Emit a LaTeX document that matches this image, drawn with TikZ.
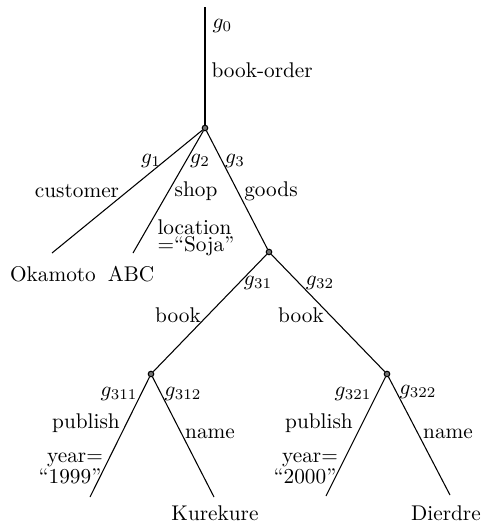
\documentclass[tikz,border=0pt]{standalone}
\usepackage{amsmath}
\usepackage{tikz}

\begin{document}
\begin{tikzpicture}[x = 0.47pt, y = -0.47pt, line width = 0.5pt,
                    dot/.style = {circle, draw, fill = black!55, inner sep = 0pt, minimum size = 2.6pt},
                    lbl/.style = {inner sep = 0pt}]
  \useasboundingbox (0,0) rectangle (487,527);

  \coordinate (T0) at (205,7);
  \node [dot] (N0) at (205,128) {};
  \coordinate (L1) at (52,253);
  \coordinate (L2) at (133,253);
  \node [dot] (N3) at (269,252) {};
  \node [dot] (N31) at (151,374) {};
  \node [dot] (N32) at (387,374) {};
  \coordinate (L311) at (90,497);
  \coordinate (L312) at (214,497);
  \coordinate (L321) at (326,496);
  \coordinate (L322) at (450,495);

  \draw (T0) -- (N0);
  \draw (N0) -- (L1);
  \draw (N0) -- (L2);
  \draw (N0) -- (N3);
  \draw (N3) -- (N31);
  \draw (N3) -- (N32);
  \draw (N31) -- (L311);
  \draw (N31) -- (L312);
  \draw (N32) -- (L321);
  \draw (N32) -- (L322);

  \node [lbl, anchor = west] (G0) at (212,26) {$g_0$};
  \node [lbl, anchor = west] (BO) at (211,70) {book-order};

  \node [lbl] (G1) at (151,161) {$g_1$};
  \node [lbl] (G2) at (200,161) {$g_2$};
  \node [lbl] (G3) at (235,161) {$g_3$};
  \node [lbl] (CU) at (77,191) {customer};
  \node [lbl] (SH) at (196,191) {shop};
  \node [lbl] (GO) at (271,191) {goods};
  \node [lbl, anchor = north west, align = left] (LO) at (157,219) {location\\[-4pt]=``Soja''};
  \node [lbl] (OK) at (53,274) {Okamoto};
  \node [lbl] (AB) at (131,274) {ABC};

  \node [lbl] (G31) at (258,283) {$g_{31}$};
  \node [lbl] (G32) at (320,283) {$g_{32}$};
  \node [lbl] (BK1) at (178,315) {book};
  \node [lbl] (BK2) at (301,315) {book};

  \node [lbl] (G311) at (119,394) {$g_{311}$};
  \node [lbl] (G312) at (183,394) {$g_{312}$};
  \node [lbl] (PU1) at (86,423) {publish};
  \node [lbl] (NA1) at (210,434) {name};
  \node [lbl] (YE1) at (75,460) {year=};
  \node [lbl] (YV1) at (70,476) {``1999''};
  \node [lbl] (KU) at (215,513) {Kurekure};

  \node [lbl] (G321) at (353,394) {$g_{321}$};
  \node [lbl] (G322) at (418,392) {$g_{322}$};
  \node [lbl] (PU2) at (319,423) {publish};
  \node [lbl] (NA2) at (448,434) {name};
  \node [lbl] (YE2) at (310,460) {year=};
  \node [lbl] (YV2) at (305,476) {``2000''};
  \node [lbl] (DI) at (446,513) {Dierdre};
\end{tikzpicture}
\end{document}
